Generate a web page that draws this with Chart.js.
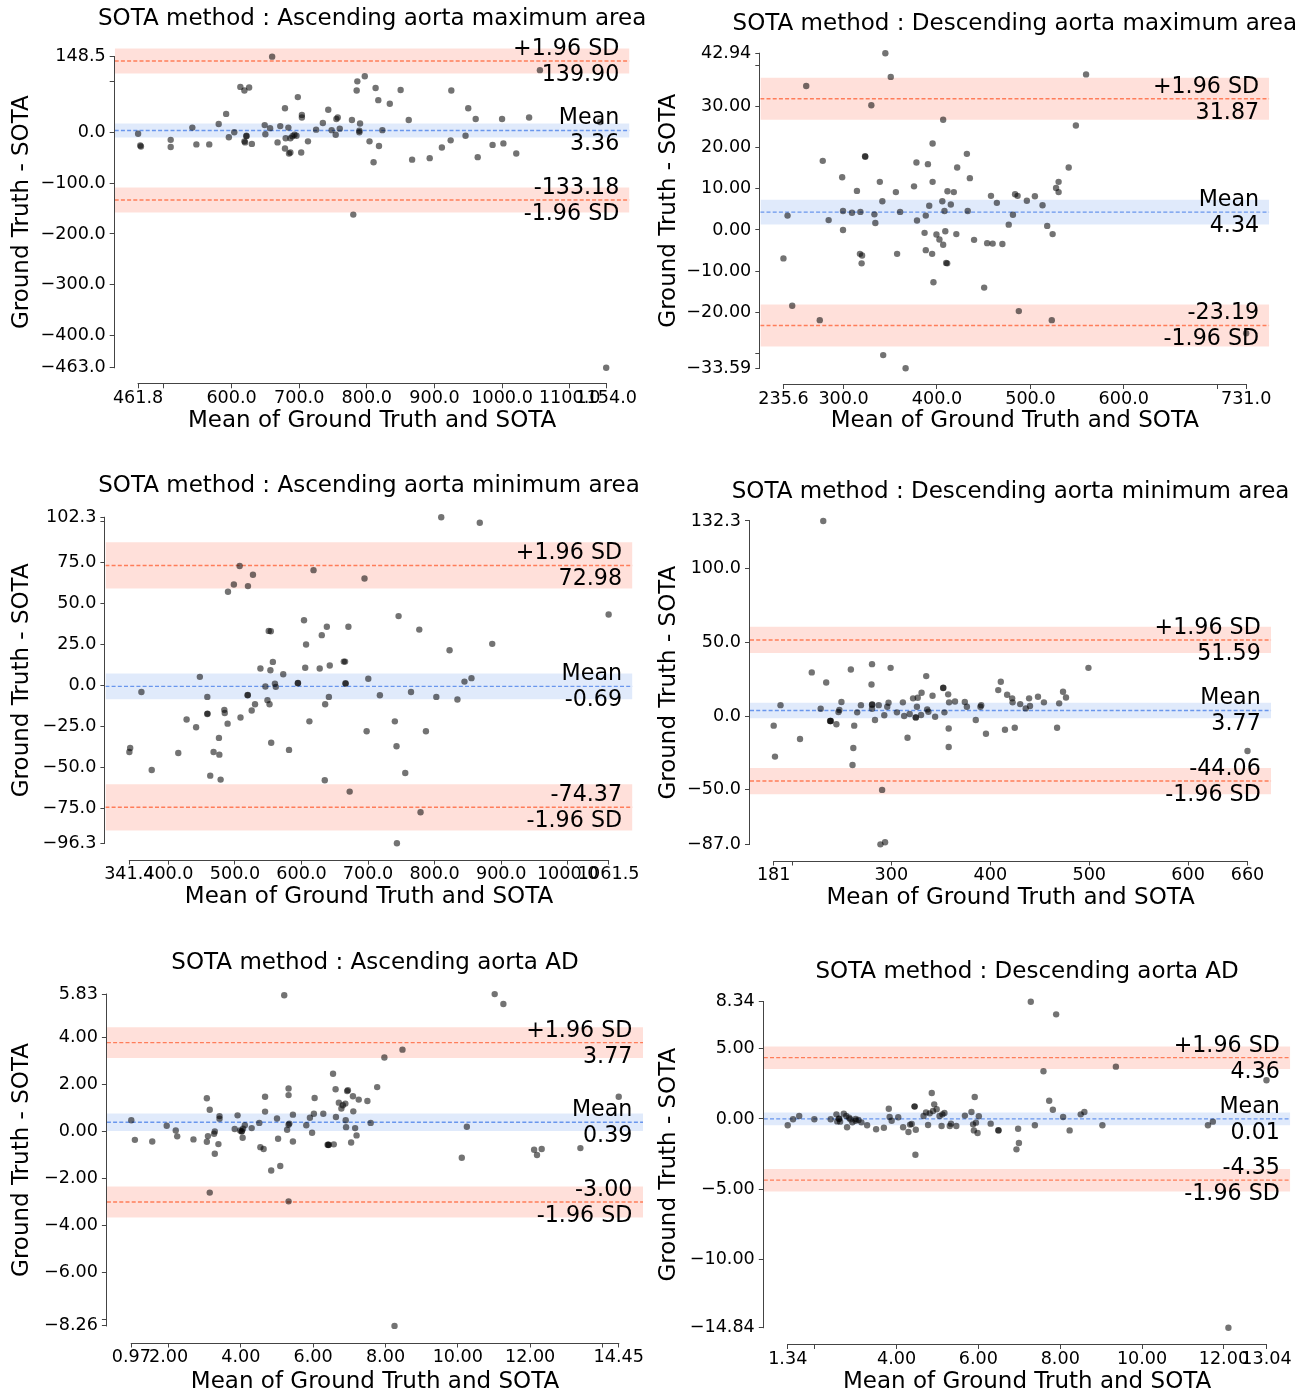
<!DOCTYPE html>
<html>
<head>
<meta charset="utf-8">
<script src="https://cdn.jsdelivr.net/npm/chart.js@4.4.1/dist/chart.umd.min.js"></script>
<style>
html, body { margin: 0; padding: 0; background: #ffffff; }
#wrap { position: relative; width: 1314px; height: 1394px; overflow: hidden; background: #ffffff; }
#wrap canvas { position: absolute; }
</style>
</head>
<body>
<div id="wrap"></div>
<script>
// ---------------- DATA ----------------
const xAxisTitle = 'Mean of Ground Truth and SOTA';
const yAxisTitle = 'Ground Truth - SOTA';

// Panel 1: Ascending aorta maximum area
const ascMaxTitle = 'SOTA method : Ascending aorta maximum area';
const ascMaxMean = [461.8,465,466,510,510,542,548,567,581,592, 596,604,613,619,626,619,620,622,622,630, 649,650,657,660,668,672,679,679,680,684, 685,687,687,690,693,696,698,704,704,703, 713,725,735,743,748,754,755,757,760,778, 785,786,789,790,789,797,804,810,813,817, 818,823,834,850,862,867,893,911,924,925, 946,950,961,964,986,1000,1002,1021,1040,1056, 1145,1154,780];
const ascMaxDiff = [-3,-26,-28,-15,-29,9,-24,-24,16,36, -10,0,89,82,88,-18,-20,-8,-7,-23, 14,-4,8,148.5,-20,12,47,-32,-12,9, -42,-40,-12,-8,-5,-7,69,34,29,-40, -18,5,18,44,4,-5,26,29,7,24, 82,100,0,17,3,110,-18,-59,87,63, -27,4,56,83,24,-54,-51,-30,-16,82, -7,47,26,-49,-25,26,-22,-42,29,122, 20,-463,-162];
const ascMaxStats = [139.90, 3.36, -133.18];           // +1.96 SD, mean, -1.96 SD
const ascMaxBands = [[115.2, 164.6], [-10.3, 17.1], [-157.9, -108.5]];
const ascMaxXTicks = [461.8, 500, 600, 700, 800, 900, 1000, 1100, 1154.0];
const ascMaxXLabels = ['461.8', '', '600.0', '700.0', '800.0', '900.0', '1000.0', '1100.0', '1154.0'];
const ascMaxYTicks = [-463.0, -400, -300, -200, -100, 0, 100, 148.5];
const ascMaxYLabels = ['\u2212463.0', '\u2212400.0', '\u2212300.0', '\u2212200.0', '\u2212100.0', '0.0', '', '148.5'];

// Panel 2: Descending aorta maximum area
const descMaxTitle = 'SOTA method : Descending aorta maximum area';
const descMaxMean = [235.6,240,245,260,274.5,277.7,284,298.5,299.4,299.4, 309,314.3,317.5,318,319.3,319.8,323,329.7,333,334, 338.8,341.5,342.4,344.7,350.5,356,357.3,360.5,375.4,378, 378.6,386.7,388,388,390.3,391.7,394.8,395.3,395.3,396.2, 399.4,402.6,405.7,406.6,406.6,408,408.9,409.8,411.2,414.8, 418,420.7,421.6,432,432.9,435.2,439.7,450.5,453.7,457.8, 459.6,464.1,470,476.8,481.3,483.6,486.3,487.6,496.2,504.8, 513,518,522.9,523.8,527.5,530.2,530.2,541,548.7,559.6, 366.4,731.0,323.2,410.9];
const descMaxDiff = [-6.9,3.5,-18.4,35,-21.9,16.8,2.4,12.8,4.6,0, 4.2,9.5,-5.8,4.4,-8.1,-6.2,17.9,30.3,3.8,1.7, 11.7,7,-30.4,42.94,37.2,9.2,-5.8,4.4,10.6,16.4, 2.3,-0.7,3.5,-4.9,16,5.9,-5.8,11.7,21,-12.7, -1.1,-2.3,7,26.8,-3.6,4.6,-0.3,-8,9.4,6.2, 9.2,-1,15.2,18.5,4.6,12.6,-2.4,-14,-3.2,8.3, -3.3,6.6,-3.4,1.3,3.7,8.7,8.3,-19.7,7.1,8.2, 6,1,-21.9,-1,10.2,11.7,9.2,15.2,25.4,37.8, -33.59,-25.1,17.8,-8.1];
const descMaxStats = [31.87, 4.34, -23.19];
const descMaxBands = [[26.77, 36.97], [1.34, 7.34], [-28.29, -18.09]];
const descMaxXTicks = [235.6, 300, 400, 500, 600, 700, 731.0];
const descMaxXLabels = ['235.6', '300.0', '400.0', '500.0', '600.0', '', '731.0'];
const descMaxYTicks = [-33.59, -30, -20, -10, 0, 10, 20, 30, 40, 42.94];
const descMaxYLabels = ['\u221233.59', '', '\u221220.00', '\u221210.00', '0.00', '10.00', '20.00', '30.00', '', '42.94'];

// Panel 3: Ascending aorta minimum area
const ascMinTitle = 'SOTA method : Ascending aorta minimum area';
const ascMinMean = [341.4,342.6,359.5,375,414.9,427.4,441.7,447.3,458.5,458.5, 462.9,467.9,476,476.6,478.5,484.1,484.7,489,489.6,498.4, 507.1,508.4,519,519.6,525.2,527.1,530.2,538.3,545.8,548.9, 550.8,552,553.3,553.9,554.5,557,560.1,561.4,572.6,581.3, 594.5,603.8,605.6,606.9,611.9,618.1,627.4,630.5,635,635.6, 638.1,641.2,642.5,663.6,665.5,666.1,670.5,672.4,694.7,697.9, 700.4,717.8,740.3,742.8,743.4,745.9,755.9,764.6,777,778.9, 787,802.6,810,822.5,834.3,844.9,855.4,867.9,886.6,1061.5, 458.8,519.4,594.8,666.4];
const ascMinDiff = [-40.7,-38.2,-4.1,-51.6,-41.3,-20.9,-25.6,5.1,-7.1,-17.5, -55.1,-40.7,-32.1,-42.3,-57.5,-15,-16.9,-23.4,56.9,61.4, 72.6,-19.7,-6.1,60.4,-15.4,67.3,-11.6,10.2,-0.8,-9.1, 33.1,-11.6,9.1,32.9,-35,14.2,1,-1,6.7,-39.4, 1.2,39.6,10.6,24.8,-22,70.1,10.2,30.5,-57.9,-11.6, 35.6,-7.1,12,14.4,14.4,1.2,35.6,-64.8,65,-28, 3.9,-6.1,-22,-37.2,-96.3,42.1,-53.5,-4.1,33.9,-77.4, -28,-7.1,102.3,21.3,-8.7,2.2,4.3,99,25.2,43.1, -17.3,-6.0,1.4,1.0];
const ascMinStats = [72.98, -0.69, -74.37];
const ascMinBands = [[58.88, 87.08], [-8.59, 7.21], [-88.47, -60.27]];
const ascMinXTicks = [341.4, 400, 500, 600, 700, 800, 900, 1000, 1061.5];
const ascMinXLabels = ['341.4', '400.0', '500.0', '600.0', '700.0', '800.0', '900.0', '1000.0', '1061.5'];
const ascMinYTicks = [-96.3, -75, -50, -25, 0, 25, 50, 75, 100, 102.3];
const ascMinYLabels = ['\u221296.3', '\u221275.0', '\u221250.0', '\u221225.0', '0.0', '25.0', '50.0', '75.0', '', '102.3'];

// Panel 4: Descending aorta minimum area
const descMinTitle = 'SOTA method : Descending aorta minimum area';
const descMinMean = [181,182.3,187.9,207.6,219.5,228.5,231.1,234.1,238,238.8, 244.4,246.5,247.4,249.5,259,260.7,261.5,262.4,265.4,269.2, 279.9,280.4,280.4,280.4,283.4,287.2,288.9,290.6,292.8,293.6, 295.8,297.1,299.2,305.6,311.6,312.9,316.3,318.5,321.9,324.5, 325.8,326.6,330,330.5,335.2,336.2,337.4,341.6,344.2,352.3, 357.4,353.6,357.9,357.9,358.3,364.3,374.2,376.3,385.3,390, 390.8,395.6,408,410.6,414.8,417,422.1,422.5,424.7,430.2, 435.8,439.2,440.1,448.2,454.2,467.5,469.6,473.5,476.5,499.2, 660,238.3,280.6,324.8,352.5];
const descMinDiff = [-6.5,-27.5,7.4,-15.6,29.6,5,132.3,22.8,-3.4,-3.4, -5.6,2.7,4.1,9.5,31.6,-33.2,-21.7,-6.5,2.5,7.4, 21.4,35.2,7.7,5,-2.7,7.4,-87,-50.1,0.5,-85.6, 6.3,9,32.7,2.5,9.3,0,-14.7,1.4,12,-0.9, 6.3,12.4,0.7,15.8,27.1,4.5,2.9,13.8,-0.5,19, 14.7,2.5,-8.4,-21,9.3,9.9,9.5,6.3,-2.7,6.3, 7.4,-12,17.6,23.3,-9.3,14.4,12,9.3,-7.9,8.1, 5.2,12,6.8,13.1,9.3,-7.9,8.6,16.5,12.6,32.7, -23.7,-3.4,7.9,-0.9,19.2];
const descMinStats = [51.59, 3.77, -44.06];
const descMinBands = [[42.69, 60.49], [-1.53, 9.07], [-52.96, -35.16]];
const descMinXTicks = [181, 200, 300, 400, 500, 600, 660];
const descMinXLabels = ['181', '', '300', '400', '500', '600', '660'];
const descMinYTicks = [-87.0, -50, 0, 50, 100, 132.3];
const descMinYLabels = ['\u221287.0', '\u221250.0', '0.0', '50.0', '100.0', '132.3'];

// Panel 5: Ascending aorta AD
const ascADTitle = 'SOTA method : Ascending aorta AD';
const ascADMean = [0.97,1.07,1.55,1.95,2.2,2.24,2.69,3.06,3.06,3.09, 3.14,3.14,3.26,3.28,3.28,3.38,3.41,3.41,3.83,3.91, 3.98,4.02,4.05,4.06,4.11,4.3,4.51,4.54,4.63,4.67, 4.67,4.84,5,5.03,5.09,5.2,5.28,5.32,5.32,5.32, 5.34,5.32,5.44,5.44,5.81,5.91,5.97,6.02,6.04,6.28, 6.4,6.43,6.55,6.57,6.62,6.63,6.71,6.78,6.82,6.89, 6.9,6.91,6.94,6.96,7.05,7.1,7.11,7.16,7.2,7.26, 7.5,7.59,7.77,7.97,8.25,8.47,10.11,10.25,11.02,11.26, 12.11,12.19,12.32,13.39,14.45,4.03,6.42];
const ascADDiff = [0.47,-0.36,-0.43,0.24,0.04,-0.21,-0.34,1.41,-0.44,-0.2, 0.92,-2.6,-0.1,0,-0.95,-0.54,0.65,0.54,0.1,0.68, 0.04,-0.01,-0.27,0.11,0.26,0.14,0.36,-0.67,-0.75,1.47, 0.84,-1.66,0.55,-0.31,-1.47,5.78,0.07,1.82,1.54,0.28, 0.33,-2.97,0.71,-0.43,0.26,0.58,-0.06,0.75,1.42,0.75, -0.57,-0.57,2.45,-0.55,1.79,0.61,1.22,0.97,1.11,1.18, 0.47,0.18,1.71,1.75,-0.47,1.49,0.85,0.14,-0.17,1.35, 1.29,0.36,1.88,3.14,-8.26,3.47,-1.12,0.2,5.83,5.41, -0.78,-1,-0.75,-0.71,1.47,0.02,-0.58];
const ascADStats = [3.77, 0.39, -3.00];
const ascADBands = [[3.115, 4.425], [0.02, 0.76], [-3.655, -2.345]];
const ascADXTicks = [0.97, 2, 4, 6, 8, 10, 12, 14, 14.45];
const ascADXLabels = ['0.97', '2.00', '4.00', '6.00', '8.00', '10.00', '12.00', '', '14.45'];
const ascADYTicks = [-8.26, -8, -6, -4, -2, 0, 2, 4, 5.83];
const ascADYLabels = ['\u22128.26', '', '\u22126.00', '\u22124.00', '\u22122.00', '0.00', '2.00', '4.00', '5.83'];

// Panel 6: Descending aorta AD
const descADTitle = 'SOTA method : Descending aorta AD';
const descADMean = [1.34,1.47,1.62,1.99,2.39,2.53,2.55,2.59,2.62,2.71, 2.77,2.79,2.84,2.87,2.92,3,3.07,3.14,3.28,3.5, 3.69,3.81,3.83,3.88,4.04,4.16,4.29,4.33,4.37,4.44, 4.46,4.47,4.66,4.72,4.77,4.81,4.86,4.89,4.92,4.98, 5.05,5.1,5.12,5.17,5.3,5.33,5.46,5.67,5.83,5.87, 5.89,5.91,5.94,5.98,6.01,6.3,6.49,6.93,6.99,6.97, 7.28,7.38,7.59,7.73,7.82,7.9,8.07,8.23,8.5,8.59, 9.03,9.36,11.61,11.73,12.11,13.04,4.44,3.0,6.49,2.6];
const descADDiff = [-0.45,-0.02,0.21,-0.02,-0.02,0.33,-0.17,0.02,-0.19,0.38, 0.21,-0.59,0.09,-0.02,-0.24,-0.12,-0.07,-0.24,-0.45,-0.73, -0.62,0.73,0.14,-0.12,0.12,-0.59,-0.92,-0.4,-0.36,0.9, -2.54,-0.76,0.21,0.47,-0.43,0.4,1.85,0.57,1.04,0.69, 0.21,-0.5,0.33,0.43,-0.5,-0.33,-0.5,0.24,0.5,-0.38, -0.81,1.56,-0.26,-1,0.19,-0.33,-0.81,-2.16,-1.71,-0.69, 8.34,-0.45,3.39,1.3,0.66,7.44,0.14,-0.81,0.33,0.5, -0.45,3.72,-0.45,-0.19,-14.84,2.75,0.88,0.0,-0.8,0.02];
const descADStats = [4.36, 0.01, -4.35];
const descADBands = [[3.56, 5.16], [-0.44, 0.46], [-5.15, -3.55]];
const descADXTicks = [1.34, 2, 4, 6, 8, 10, 12, 13.04];
const descADXLabels = ['1.34', '', '4.00', '6.00', '8.00', '10.00', '12.00', '13.04'];
const descADYTicks = [-14.84, -10, -5, 0, 5, 8.34];
const descADYLabels = ['\u221214.84', '\u221210.00', '\u22125.00', '0.00', '5.00', '8.34'];

// ---------------- LAYOUT (page pixels) ----------------
const panels = [
  { title: ascMaxTitle, xs: ascMaxMean, ys: ascMaxDiff, stats: ascMaxStats, bands: ascMaxBands,
    xTicks: ascMaxXTicks, xLabels: ascMaxXLabels, yTicks: ascMaxYTicks, yLabels: ascMaxYLabels,
    box: [0, 0, 655, 450], axes: [114.7, 41.1, 629.6, 383.3], titleY: 18.8, yTitleX: 22.5, xTitleY: 421 },
  { title: descMaxTitle, xs: descMaxMean, ys: descMaxDiff, stats: descMaxStats, bands: descMaxBands,
    xTicks: descMaxXTicks, xLabels: descMaxXLabels, yTicks: descMaxYTicks, yLabels: descMaxYLabels,
    box: [655, 0, 659, 450], axes: [760.3, 37.5, 1269.3, 384], titleY: 24, yTitleX: 669, xTitleY: 421 },
  { title: ascMinTitle, xs: ascMinMean, ys: ascMinDiff, stats: ascMinStats, bands: ascMinBands,
    xTicks: ascMinXTicks, xLabels: ascMinXLabels, yTicks: ascMinYTicks, yLabels: ascMinYLabels,
    box: [0, 455, 655, 470], axes: [105.4, 501, 632.6, 859.6], titleY: 486, yTitleX: 21.6, xTitleY: 897 },
  { title: descMinTitle, xs: descMinMean, ys: descMinDiff, stats: descMinStats, bands: descMinBands,
    xTicks: descMinXTicks, xLabels: descMinXLabels, yTicks: descMinYTicks, yLabels: descMinYLabels,
    box: [655, 455, 659, 470], axes: [750, 504.8, 1271.2, 860.5], titleY: 491.7, yTitleX: 669, xTitleY: 898 },
  { title: ascADTitle, xs: ascADMean, ys: ascADDiff, stats: ascADStats, bands: ascADBands,
    xTicks: ascADXTicks, xLabels: ascADXLabels, yTicks: ascADYTicks, yLabels: ascADYLabels,
    box: [0, 930, 655, 464], axes: [106.9, 977.5, 643.1, 1342.5], titleY: 963.3, yTitleX: 21.9, xTitleY: 1382.7 },
  { title: descADTitle, xs: descADMean, ys: descADDiff, stats: descADStats, bands: descADBands,
    xTicks: descADXTicks, xLabels: descADXLabels, yTicks: descADYTicks, yLabels: descADYLabels,
    box: [655, 930, 659, 464], axes: [763.8, 985.4, 1290.4, 1344], titleY: 971.7, yTitleX: 669, xTitleY: 1383 }
];

// ---------------- STYLE ----------------
const FONT = "'DejaVu Sans', 'Liberation Sans', sans-serif";
const TITLE_SIZE = 23;
const AXIS_TITLE_SIZE = 23;
const TICK_SIZE = 17.6;
const ANNOT_SIZE = 22.2;
const LOA_COLOR = 'rgb(255,125,90)';
const MEAN_COLOR = 'rgb(105,150,237)';
const LOA_FILL = 'rgba(255,99,71,0.2)';
const MEAN_FILL = 'rgba(100,149,237,0.2)';
const AXIS_COLOR = '#444444';

Chart.defaults.font.family = FONT;

const wrap = document.getElementById('wrap');

function buildPanel(p) {
  const [cx, cy, cw, ch] = p.box;
  const [L, T, R, B] = p.axes;
  const canvas = document.createElement('canvas');
  canvas.width = cw; canvas.height = ch;
  canvas.style.left = cx + 'px'; canvas.style.top = cy + 'px';
  canvas.style.width = cw + 'px'; canvas.style.height = ch + 'px';
  canvas.setAttribute('aria-label', p.title);
  wrap.appendChild(canvas);

  const x0 = p.xTicks[0], x1 = p.xTicks[p.xTicks.length - 1];
  const y0 = p.yTicks[0], y1 = p.yTicks[p.yTicks.length - 1];
  const xPad = 0.05 * (x1 - x0), yPad = 0.05 * (y1 - y0);
  const xmin = x0 - xPad, xmax = x1 + xPad, ymin = y0 - yPad, ymax = y1 + yPad;

  const yTitlePt = Math.max(0, (p.yTitleX - cx) - AXIS_TITLE_SIZE / 2);
  const xTitlePb = Math.max(0, (cy + ch - p.xTitleY) - AXIS_TITLE_SIZE / 2);

  const points = p.xs.map((v, i) => ({ x: v, y: p.ys[i] }));
  const hline = (v) => [{ x: xmin, y: v }, { x: xmax, y: v }];
  const lineColors = [LOA_COLOR, MEAN_COLOR, LOA_COLOR];
  const fillColors = [LOA_FILL, MEAN_FILL, LOA_FILL];

  const datasets = [{
    type: 'scatter', data: points, pointRadius: 3.2, pointHoverRadius: 3.2,
    backgroundColor: 'rgba(0,0,0,0.55)', borderWidth: 0, order: 0
  }];
  p.stats.forEach((v, i) => datasets.push({
    type: 'line', data: hline(v), borderColor: lineColors[i], borderWidth: 1.4,
    borderDash: [4, 2.2], pointRadius: 0, fill: false, order: 1
  }));
  p.bands.forEach((b, i) => datasets.push({
    type: 'line', data: hline(b[1]), borderColor: 'rgba(0,0,0,0)', borderWidth: 0,
    pointRadius: 0, fill: { value: b[0] }, backgroundColor: fillColors[i], order: 2
  }));

  const deco = {
    id: 'deco',
    afterDatasetsDraw(chart) {
      const { ctx, chartArea: a, scales: { x, y } } = chart;
      ctx.save();
      // trimmed spines
      ctx.strokeStyle = AXIS_COLOR; ctx.lineWidth = 1;
      const sx = Math.round(a.left) - 0.5;
      const sy = Math.round(a.bottom) + 0.5;
      ctx.beginPath();
      ctx.moveTo(sx, y.getPixelForValue(y1) - 0.5);
      ctx.lineTo(sx, y.getPixelForValue(y0) + 0.5);
      ctx.moveTo(x.getPixelForValue(x0) - 0.5, sy);
      ctx.lineTo(x.getPixelForValue(x1) + 0.5, sy);
      ctx.stroke();
      // panel title (centred over the axes, may be wider than the axes)
      ctx.fillStyle = '#000000';
      ctx.font = TITLE_SIZE + 'px ' + FONT;
      ctx.textAlign = 'center';
      ctx.textBaseline = 'middle';
      ctx.fillText(p.title, (a.left + a.right) / 2, p.titleY - cy);
      // annotations
      ctx.font = ANNOT_SIZE + 'px ' + FONT;
      ctx.textAlign = 'right';
      ctx.textBaseline = 'alphabetic';
      const tx = a.left + 0.98 * (a.right - a.left);
      const above = 6, below = 20;
      const [up, mn, lo] = p.stats;
      const pu = y.getPixelForValue(up), pm = y.getPixelForValue(mn), pl = y.getPixelForValue(lo);
      ctx.fillText('+1.96 SD', tx, pu - above);
      ctx.fillText(up.toFixed(2), tx, pu + below);
      ctx.fillText('Mean', tx, pm - above);
      ctx.fillText(mn.toFixed(2), tx, pm + below);
      ctx.fillText(lo.toFixed(2), tx, pl - above);
      ctx.fillText('-1.96 SD', tx, pl + below);
      ctx.restore();
    }
  };

  new Chart(canvas, {
    type: 'scatter',
    data: { datasets },
    options: {
      responsive: false, animation: false, devicePixelRatio: 1,
      events: [],
      layout: { padding: { left: 0, top: T - cy, right: cx + cw - R, bottom: 0 } },
      plugins: {
        legend: { display: false },
        tooltip: { enabled: false },
        title: { display: false, text: p.title }
      },
      scales: {
        x: {
          type: 'linear', position: 'bottom', min: xmin, max: xmax,
          afterBuildTicks: (s) => { s.ticks = p.xTicks.map(v => ({ value: v })); },
          afterFit: (s) => { s.height = cy + ch - B; s.paddingLeft = 0; s.paddingRight = 0; },
          ticks: {
            autoSkip: false, maxRotation: 0, minRotation: 0, padding: 1.5, color: '#000000',
            font: { family: FONT, size: TICK_SIZE, lineHeight: 1 },
            callback: (v, i) => p.xLabels[i]
          },
          grid: { drawOnChartArea: false, drawTicks: true, tickLength: 5, color: AXIS_COLOR, lineWidth: 1 },
          border: { display: false },
          title: {
            display: true, text: xAxisTitle, color: '#000000',
            font: { family: FONT, size: AXIS_TITLE_SIZE, lineHeight: 1 },
            padding: { top: 0, bottom: xTitlePb }
          }
        },
        y: {
          type: 'linear', position: 'left', min: ymin, max: ymax,
          afterBuildTicks: (s) => { s.ticks = p.yTicks.map(v => ({ value: v })); },
          afterFit: (s) => { s.width = L - cx; s.paddingTop = 0; s.paddingBottom = 0; },
          ticks: {
            autoSkip: false, padding: 4, color: '#000000',
            font: { family: FONT, size: TICK_SIZE, lineHeight: 1 },
            callback: (v, i) => p.yLabels[i]
          },
          grid: { drawOnChartArea: false, drawTicks: true, tickLength: 5, color: AXIS_COLOR, lineWidth: 1 },
          border: { display: false },
          title: {
            display: true, text: yAxisTitle, color: '#000000',
            font: { family: FONT, size: AXIS_TITLE_SIZE, lineHeight: 1 },
            padding: { top: yTitlePt, bottom: 0 }
          }
        }
      }
    },
    plugins: [deco]
  });
}

panels.forEach(buildPanel);
</script>
</body>
</html>
